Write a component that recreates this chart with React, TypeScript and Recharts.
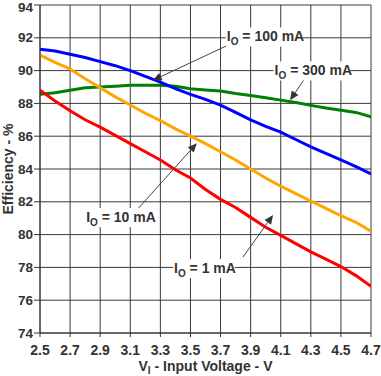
import React from 'react';
import {
  LineChart,
  Line,
  XAxis,
  YAxis,
  CartesianGrid,
  ReferenceLine,
  ReferenceDot,
  Label,
} from 'recharts';

const voltages = [2.5, 2.6, 2.7, 2.8, 2.9, 3.0, 3.1, 3.2, 3.3, 3.4, 3.5, 3.6, 3.7, 3.8, 3.9, 4.0, 4.1, 4.2, 4.3, 4.4, 4.5, 4.6, 4.7];
const io100mA = [91.3, 91.2, 91.0, 90.8, 90.55, 90.3, 90.0, 89.65, 89.3, 88.9, 88.55, 88.25, 87.9, 87.45, 87.0, 86.6, 86.25, 85.8, 85.35, 84.95, 84.55, 84.15, 83.7];
const io300mA = [88.55, 88.65, 88.8, 88.95, 89.0, 89.05, 89.1, 89.1, 89.1, 89.05, 88.9, 88.82, 88.75, 88.6, 88.48, 88.35, 88.2, 88.05, 87.88, 87.72, 87.58, 87.45, 87.18];
const io10mA = [90.95, 90.5, 90.1, 89.5, 88.95, 88.4, 87.9, 87.4, 86.95, 86.45, 86.0, 85.55, 85.05, 84.55, 84.0, 83.45, 82.95, 82.5, 82.05, 81.6, 81.15, 80.75, 80.2];
const io1mA = [88.8, 88.15, 87.55, 87.0, 86.55, 86.05, 85.55, 85.05, 84.55, 83.95, 83.45, 82.75, 82.15, 81.65, 81.05, 80.45, 79.95, 79.45, 78.95, 78.5, 78.05, 77.5, 76.85];

const xTicks = [2.5, 2.7, 2.9, 3.1, 3.3, 3.5, 3.7, 3.9, 4.1, 4.3, 4.5, 4.7];
const yTicks = [74, 76, 78, 80, 82, 84, 86, 88, 90, 92, 94];

const labelTexts = ['= 100 mA', '= 300 mA', '= 10 mA', '= 1 mA'];
const labelAnchors = [
  { x: 3.99, y: 92.08 },
  { x: 4.308, y: 90.01 },
  { x: 3.03, y: 81.07 },
  { x: 3.589, y: 77.96 },
];
const leaderFrom = [
  { x: 3.775, y: 91.66 },
  { x: 4.261, y: 89.53 },
  { x: 3.143, y: 81.49 },
  { x: 3.849, y: 78.63 },
];
const leaderTo = [
  { x: 3.249, y: 89.4 },
  { x: 4.162, y: 88.19 },
  { x: 3.542, y: 85.57 },
  { x: 4.049, y: 81.19 },
];

const data = voltages.map((v, i) => ({
  v,
  a100: io100mA[i],
  a300: io300mA[i],
  a10: io10mA[i],
  a1: io1mA[i],
}));

const FONT = '"Liberation Sans", Arial, sans-serif';
const TEXT_COLOR = '#333333';

const ArrowShape = (props: any) => {
  const { x1, y1, x2, y2 } = props;
  if ([x1, y1, x2, y2].some((n) => typeof n !== 'number' || isNaN(n))) return null;
  const dx = x2 - x1;
  const dy = y2 - y1;
  const len = Math.sqrt(dx * dx + dy * dy) || 1;
  const ux = dx / len;
  const uy = dy / len;
  const headLen = 9;
  const headW = 4;
  const bx = x2 - ux * headLen;
  const by = y2 - uy * headLen;
  const p1 = `${x2},${y2}`;
  const p2 = `${bx - uy * headW},${by + ux * headW}`;
  const p3 = `${bx + uy * headW},${by - ux * headW}`;
  return (
    <g>
      <line x1={x1} y1={y1} x2={bx} y2={by} stroke="#444" strokeWidth={1} />
      <polygon points={`${p1} ${p2} ${p3}`} fill="#333" />
    </g>
  );
};

const makeLabelShape = (text: string) => (props: any) => {
  const { cx, cy } = props;
  if (typeof cx !== 'number' || typeof cy !== 'number') return null;
  const w = 16 + text.length * 7.6;
  return (
    <g>
      <rect x={cx - w / 2} y={cy - 9} width={w} height={19} fill="#ffffff" />
      <text
        x={cx - w / 2 + 1}
        y={cy + 5}
        fontFamily={FONT}
        fontWeight="bold"
        fontSize={14}
        fill={TEXT_COLOR}
      >
        <tspan>I</tspan>
        <tspan fontSize={10} dy={4}>O</tspan>
        <tspan dy={-4}>{' ' + text}</tspan>
      </text>
    </g>
  );
};

const XTitle = (props: any) => {
  const vb = props.viewBox || {};
  const cx = (vb.x || 0) + (vb.width || 0) / 2;
  const y = (vb.y || 0) + 38;
  return (
    <text x={cx} y={y} textAnchor="middle" fontFamily={FONT} fontWeight="bold" fontSize={14} fill={TEXT_COLOR}>
      <tspan>V</tspan>
      <tspan fontSize={10} dy={3}>I</tspan>
      <tspan dy={-3}> - Input Voltage - V</tspan>
    </text>
  );
};

const YTitle = (props: any) => {
  const vb = props.viewBox || {};
  const x = (vb.x || 0) + 8;
  const cy = (vb.y || 0) + (vb.height || 0) / 2;
  return (
    <text
      x={x}
      y={cy}
      textAnchor="middle"
      dominantBaseline="central"
      transform={`rotate(-90, ${x}, ${cy})`}
      fontFamily={FONT}
      fontWeight="bold"
      fontSize={14}
      fill={TEXT_COLOR}
    >
      Efficiency - %
    </text>
  );
};

const YTick = (props: any) => {
  const { x, y, payload } = props;
  const yy = Math.max(y, 7.5);
  return (
    <text
      x={x}
      y={yy}
      textAnchor="end"
      dominantBaseline="central"
      fontFamily={FONT}
      fontWeight="bold"
      fontSize={13.5}
      fill={TEXT_COLOR}
    >
      {payload.value}
    </text>
  );
};

export default function App() {
  const tickStyle = { fontFamily: FONT, fontWeight: 'bold', fontSize: 14, fill: TEXT_COLOR };
  return (
    <div style={{ position: 'absolute', left: 0, top: 0, background: '#fff' }}>
      <LineChart width={381} height={376} data={data} margin={{ top: 5, right: 10, bottom: 0, left: 0 }}>
        <CartesianGrid stroke="#3a3a3a" strokeWidth={1} />
        <XAxis
          dataKey="v"
          type="number"
          domain={[2.5, 4.7]}
          ticks={xTicks}
          tickFormatter={(v: number) => v.toFixed(1)}
          height={43}
          tickSize={4}
          tickMargin={8}
          tick={tickStyle}
          stroke="#333"
          interval={0}
          allowDataOverflow
        >
          <Label content={<XTitle />} />
        </XAxis>
        <YAxis
          type="number"
          domain={[74, 94]}
          ticks={yTicks}
          width={40}
          tickSize={6}
          tickMargin={1}
          tick={<YTick />}
          stroke="#333"
          interval={0}
          allowDataOverflow
        >
          <Label content={<YTitle />} />
        </YAxis>
        <Line dataKey="a300" stroke="#008000" strokeWidth={3} dot={false} isAnimationActive={false} />
        <Line dataKey="a100" stroke="#0000ff" strokeWidth={3} dot={false} isAnimationActive={false} />
        <Line dataKey="a10" stroke="#ffa500" strokeWidth={3} dot={false} isAnimationActive={false} />
        <Line dataKey="a1" stroke="#ff0000" strokeWidth={3} dot={false} isAnimationActive={false} />
        {leaderFrom.map((f, i) => (
          <ReferenceLine
            key={'l' + i}
            segment={[f, leaderTo[i]]}
            shape={ArrowShape}
            ifOverflow="visible"
          />
        ))}
        {labelAnchors.map((a, i) => (
          <ReferenceDot
            key={'d' + i}
            x={a.x}
            y={a.y}
            r={1}
            shape={makeLabelShape(labelTexts[i])}
            ifOverflow="visible"
          />
        ))}
      </LineChart>
    </div>
  );
}
